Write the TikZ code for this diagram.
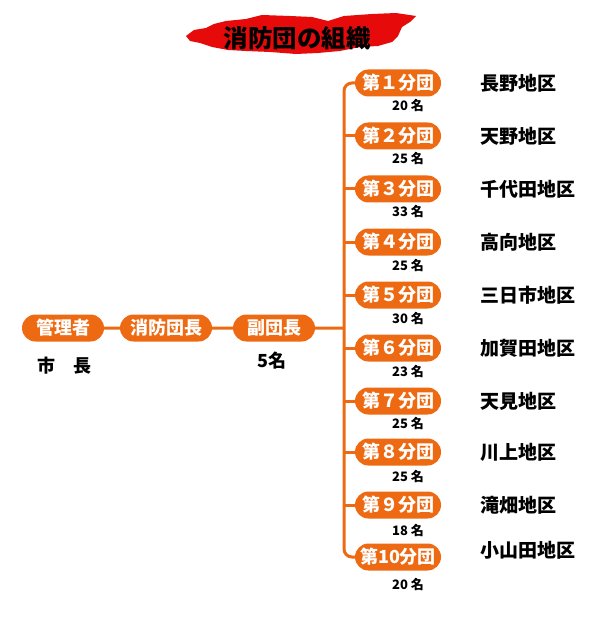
\documentclass[tikz,border=0pt]{standalone}
\usepackage{fontspec}
\newfontfamily\jpfont{Noto Sans CJK JP}
\usetikzlibrary{positioning,shapes.misc}
\definecolor{fireorange}{RGB}{238,106,18}
\definecolor{brushred}{RGB}{230,10,10}

\begin{document}
\begin{tikzpicture}[x=1pt,y=-1pt,
    every node/.style={font=\jpfont\bfseries},
    pill/.style={rounded rectangle, fill=fireorange, text=white, minimum height=27pt,
      inner sep=0pt, font=\jpfont\bfseries\fontsize{18}{18}\selectfont},
    link/.style={fireorange, line width=3pt},
    headcount/.style={font=\jpfont\bfseries\fontsize{13}{13}\selectfont},
    district/.style={anchor=west, font=\jpfont\bfseries\fontsize{19}{19}\selectfont}]
  \useasboundingbox[fill=white] (0,0) rectangle (602,620);

  % title brush stroke
  \fill[brushred] (186,36) -- (194,30) -- (206,28) -- (214,24) -- (226,21) -- (246,19) -- (262,15)
    -- (290,16) -- (312,17) -- (328,21) -- (344,16) -- (372,14) -- (396,13) -- (416,16)
    -- (410,22) -- (402,27) -- (398,36) -- (392,42) -- (378,46) -- (360,47) -- (340,51) -- (318,53)
    -- (296,54) -- (270,52) -- (246,51) -- (228,50) -- (212,47) -- (200,43) -- (190,41) -- cycle;
  \node[font=\jpfont\bfseries\fontsize{24.5}{25}\selectfont] (title) at (297,38) {消防団の組織};

  % chain on the left
  \node[pill, minimum width=82pt] (mayor) at (63,328) {管理者};
  \node[pill, minimum width=92pt] (chief) at (166,328) {消防団長};
  \node[pill, minimum width=82pt] (vice) at (274,328) {副団長};
  \node[font=\jpfont\bfseries\fontsize{18}{18}\selectfont] (mayorname) at (64,366) {市　長};
  \node[font=\jpfont\bfseries\fontsize{18}{18}\selectfont] (vicecount) at (272,361) {5名};
  \coordinate (spine) at (344,328);

  % branches
  \foreach \i/\y/\lab/\num/\ny/\dy/\area in {
      1/83/第１分団/20/106/83/長野地区,
      2/136/第２分団/25/159/136/天野地区,
      3/189/第３分団/33/212/189/千代田地区,
      4/242/第４分団/25/266/242/高向地区,
      5/295/第５分団/30/319/295/三日市地区,
      6/348/第６分団/23/372/348/加賀田地区,
      7/401/第７分団/25/424/401/天見地区,
      8/452/第８分団/25/477/452/川上地区,
      9/505/第９分団/18/531/505/滝畑地区,
      10/557/第10分団/20/585/550/小山田地区}{
    \node[pill, minimum width=86pt] (b\i) at (398,\y) {\lab};
    \node[headcount] (n\i) at (408,\ny) {\num\ 名};
    \node[district] (d\i) at (477,\dy) {\area};
  }

  \draw[link] (mayor) -- (chief);
  \draw[link] (chief) -- (vice);
  \draw[link] (vice) -- (spine);
  \draw[link, rounded corners=8pt] (b1.west) -| (spine) |- (b10.west);
  \foreach \i in {2,...,9}
    \draw[link] (b\i.west) -- (b\i.west -| spine);
\end{tikzpicture}
\end{document}
